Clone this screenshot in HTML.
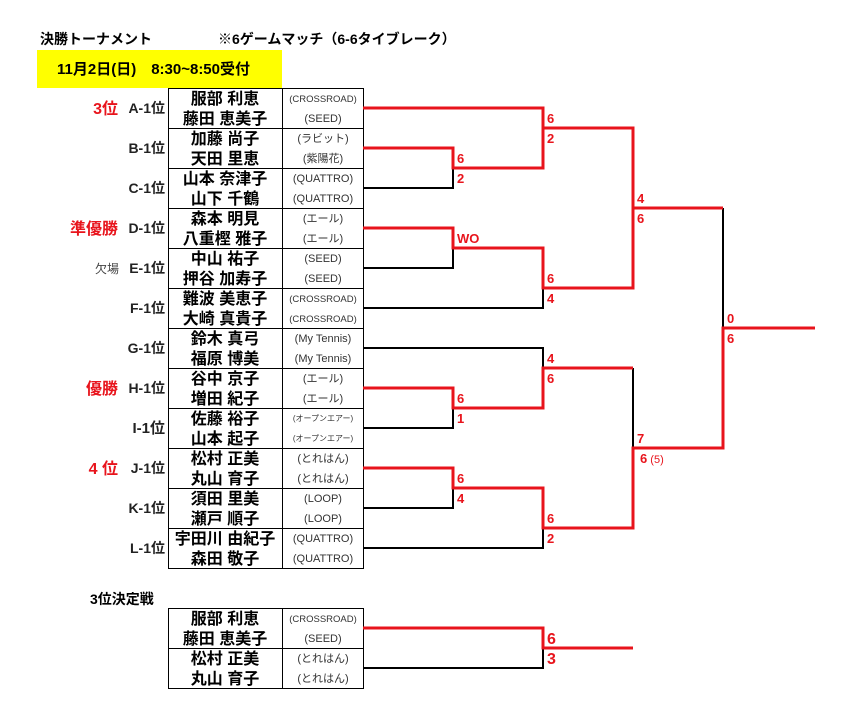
<!DOCTYPE html>
<html><head><meta charset="utf-8"><style>
body{margin:0;background:#fff;}
svg{display:block;font-family:"Liberation Sans","Noto Sans CJK JP",sans-serif;}
.n{font-size:16px;font-weight:bold;text-anchor:middle;fill:#000;}
.c{font-size:11px;text-anchor:middle;fill:#333;}
.cs{font-size:8px;text-anchor:middle;fill:#333;}
.l{font-size:14px;font-weight:bold;text-anchor:end;fill:#222;}
.r{font-size:16px;font-weight:bold;text-anchor:end;fill:#e8141c;}
.s{font-size:13px;font-weight:bold;fill:#e8141c;}
.k{stroke:#000;stroke-width:2;fill:none;}
.d{stroke:#e8141c;stroke-width:3;fill:none;}
</style></head><body>
<svg width="864" height="718" viewBox="0 0 864 718">
<text x="40" y="44" style="font-size:14px;font-weight:bold">決勝トーナメント</text>
<text x="218" y="44" style="font-size:14px;font-weight:bold">※6ゲームマッチ（6-6タイブレーク）</text>
<rect x="37" y="50" width="245" height="38" fill="#ffff00"/>
<text x="57" y="74" style="font-size:15px;font-weight:bold">11月2日(日)　8:30~8:50受付</text>

<g stroke="#000" stroke-width="1" fill="none">
<rect x="168.5" y="88.5" width="195" height="480"/>
<line x1="282.5" y1="88" x2="282.5" y2="568"/>
<line x1="168" y1="128.5" x2="364" y2="128.5"/><line x1="168" y1="168.5" x2="364" y2="168.5"/>
<line x1="168" y1="208.5" x2="364" y2="208.5"/><line x1="168" y1="248.5" x2="364" y2="248.5"/>
<line x1="168" y1="288.5" x2="364" y2="288.5"/><line x1="168" y1="328.5" x2="364" y2="328.5"/>
<line x1="168" y1="368.5" x2="364" y2="368.5"/><line x1="168" y1="408.5" x2="364" y2="408.5"/>
<line x1="168" y1="448.5" x2="364" y2="448.5"/><line x1="168" y1="488.5" x2="364" y2="488.5"/>
<line x1="168" y1="528.5" x2="364" y2="528.5"/>
<rect x="168.5" y="608.5" width="195" height="80"/>
<line x1="282.5" y1="608" x2="282.5" y2="688"/>
<line x1="168" y1="648.5" x2="364" y2="648.5"/>
</g>

<g class="n">
<text x="225" y="104">服部 利恵</text><text x="225" y="124">藤田 恵美子</text>
<text x="225" y="144">加藤 尚子</text><text x="225" y="164">天田 里恵</text>
<text x="225" y="184">山本 奈津子</text><text x="225" y="204">山下 千鶴</text>
<text x="225" y="224">森本 明見</text><text x="225" y="244">八重樫 雅子</text>
<text x="225" y="264">中山 祐子</text><text x="225" y="284">押谷 加寿子</text>
<text x="225" y="304">難波 美恵子</text><text x="225" y="324">大崎 真貴子</text>
<text x="225" y="344">鈴木 真弓</text><text x="225" y="364">福原 博美</text>
<text x="225" y="384">谷中 京子</text><text x="225" y="404">増田 紀子</text>
<text x="225" y="424">佐藤 裕子</text><text x="225" y="444">山本 起子</text>
<text x="225" y="464">松村 正美</text><text x="225" y="484">丸山 育子</text>
<text x="225" y="504">須田 里美</text><text x="225" y="524">瀬戸 順子</text>
<text x="225" y="544">宇田川 由紀子</text><text x="225" y="564">森田 敬子</text>
<text x="225" y="624">服部 利恵</text><text x="225" y="644">藤田 恵美子</text>
<text x="225" y="664">松村 正美</text><text x="225" y="684">丸山 育子</text>
</g>
<g class="c">
<text x="323" y="102" style="font-size:9.5px">(CROSSROAD)</text><text x="323" y="122">(SEED)</text>
<text x="323" y="142">(ラビット)</text><text x="323" y="162">(紫陽花)</text>
<text x="323" y="182">(QUATTRO)</text><text x="323" y="202">(QUATTRO)</text>
<text x="323" y="222">(エール)</text><text x="323" y="242">(エール)</text>
<text x="323" y="262">(SEED)</text><text x="323" y="282">(SEED)</text>
<text x="323" y="302" style="font-size:9.5px">(CROSSROAD)</text><text x="323" y="322" style="font-size:9.5px">(CROSSROAD)</text>
<text x="323" y="342">(My Tennis)</text><text x="323" y="362">(My Tennis)</text>
<text x="323" y="382">(エール)</text><text x="323" y="402">(エール)</text>
<text x="323" y="421" class="cs">(オープンエアー)</text><text x="323" y="441" class="cs">(オープンエアー)</text>
<text x="323" y="462">(とれはん)</text><text x="323" y="482">(とれはん)</text>
<text x="323" y="502">(LOOP)</text><text x="323" y="522">(LOOP)</text>
<text x="323" y="542">(QUATTRO)</text><text x="323" y="562">(QUATTRO)</text>
<text x="323" y="622" style="font-size:9.5px">(CROSSROAD)</text><text x="323" y="642">(SEED)</text>
<text x="323" y="662">(とれはん)</text><text x="323" y="682">(とれはん)</text>
</g>
<g class="l">
<text x="165" y="113">A-1位</text><text x="165" y="153">B-1位</text><text x="165" y="193">C-1位</text>
<text x="165" y="233">D-1位</text><text x="165" y="273">E-1位</text><text x="165" y="313">F-1位</text>
<text x="165" y="353">G-1位</text><text x="165" y="393">H-1位</text><text x="165" y="433" style="font-size:15px">I-1位</text>
<text x="165" y="473">J-1位</text><text x="165" y="513">K-1位</text><text x="165" y="553">L-1位</text>
</g>
<g class="r">
<text x="118" y="114">3位</text><text x="118" y="234">準優勝</text>
<text x="118" y="394">優勝</text><text x="118" y="474">4 位</text>
</g>
<text x="119" y="273" style="font-size:12px;text-anchor:end;fill:#444">欠場</text>
<text x="90" y="604" style="font-size:14px;font-weight:bold">3位決定戦</text>

<path class="k" d="M363 188H453V168M363 268H453V248M363 308H543V288M633 128V208M723 208V328M363 348H543V368M363 428H453V408M633 368V448M363 508H453V488M363 548H543V528M363 668H543V648M543 128V168"/>
<path class="d" d="M363 108H543V128H633V208H723M363 148H453V168H543V128M363 228H453V248H543V288H633V208M815 328H723V448H633V528H543V488H453V468H363M633 368H543V408H453V388H363M363 628H543V648H633"/>

<g class="s">
<text x="547" y="123">6</text><text x="547" y="143">2</text>
<text x="457" y="163">6</text><text x="457" y="183">2</text>
<text x="457" y="243">WO</text>
<text x="547" y="283">6</text><text x="547" y="303">4</text>
<text x="637" y="203">4</text><text x="637" y="223">6</text>
<text x="727" y="323">0</text><text x="727" y="343">6</text>
<text x="547" y="363">4</text><text x="547" y="383">6</text>
<text x="457" y="403">6</text><text x="457" y="423">1</text>
<text x="637" y="443">7</text><text x="640" y="463">6<tspan style="font-size:11px;font-weight:normal"> (5)</tspan></text>
<text x="457" y="483">6</text><text x="457" y="503">4</text>
<text x="547" y="523">6</text><text x="547" y="543">2</text>
<text x="547" y="644" style="font-size:16px">6</text><text x="547" y="664" style="font-size:16px">3</text>
</g>
</svg>
</body></html>
